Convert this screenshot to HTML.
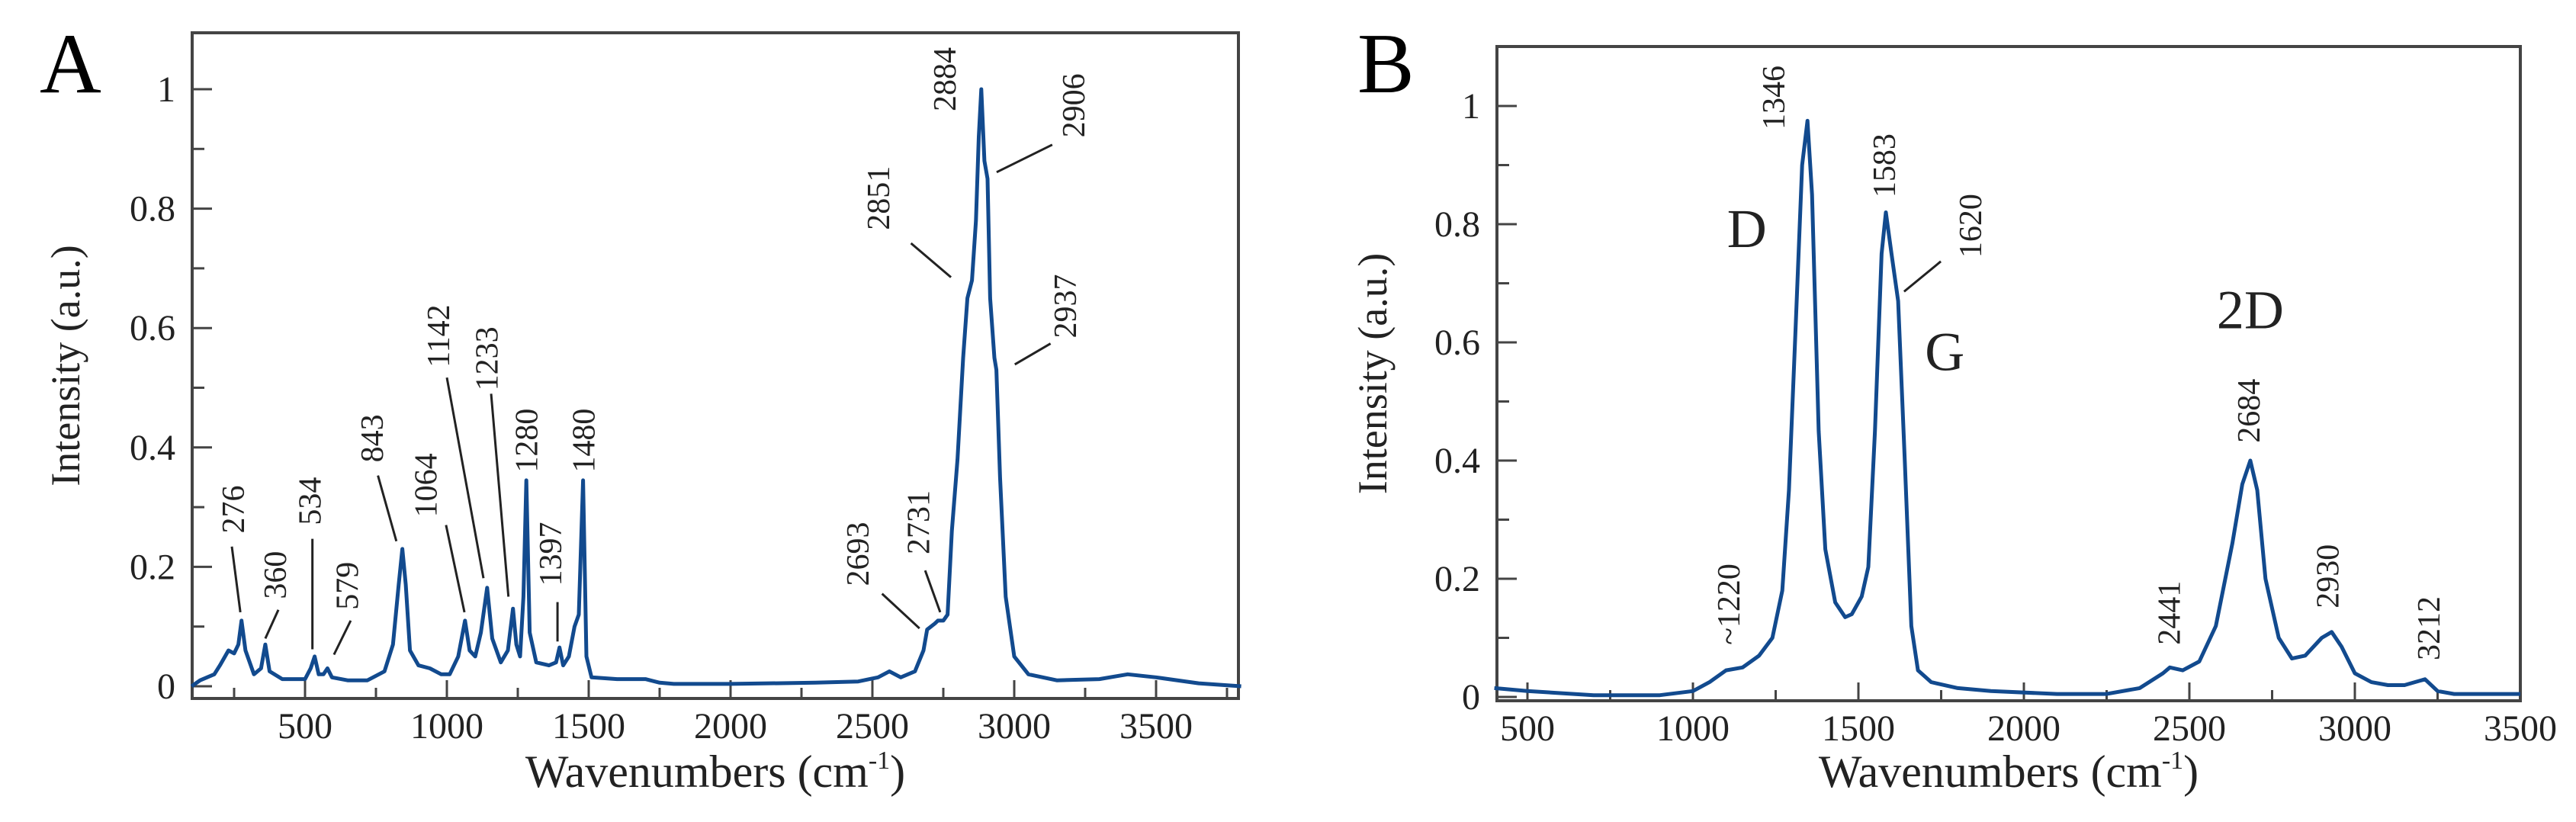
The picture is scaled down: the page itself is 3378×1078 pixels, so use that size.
<!DOCTYPE html>
<html><head><meta charset="utf-8">
<style>
html,body{margin:0;padding:0;background:#fff;}
svg{display:block;font-family:"Liberation Serif",serif;}
</style></head>
<body>
<svg id="fig" width="3378" height="1078" viewBox="0 0 3378 1078" xmlns="http://www.w3.org/2000/svg"></svg>
<script>
// ---------- Panel A data ----------
const wnA = [100,130,180,200,230,250,265,276,290,320,345,360,375,420,500,520,534,548,565,579,595,650,720,780,810,830,843,855,870,900,940,980,1010,1040,1064,1080,1100,1120,1142,1160,1190,1215,1233,1245,1258,1270,1280,1292,1315,1360,1385,1397,1410,1430,1450,1465,1480,1492,1510,1600,1700,1750,1800,2000,2300,2450,2520,2560,2600,2650,2680,2693,2720,2731,2750,2765,2780,2800,2820,2835,2851,2865,2875,2884,2895,2906,2915,2930,2937,2950,2970,3000,3050,3150,3300,3400,3500,3650,3800];
const intA = [0.0,0.01,0.02,0.035,0.06,0.055,0.07,0.11,0.06,0.02,0.03,0.07,0.025,0.012,0.012,0.03,0.05,0.02,0.02,0.03,0.015,0.01,0.01,0.025,0.07,0.17,0.23,0.17,0.06,0.035,0.03,0.02,0.02,0.05,0.11,0.06,0.05,0.09,0.165,0.08,0.04,0.06,0.13,0.07,0.05,0.15,0.345,0.09,0.04,0.035,0.04,0.065,0.035,0.05,0.1,0.12,0.345,0.05,0.015,0.012,0.012,0.006,0.004,0.004,0.006,0.008,0.015,0.025,0.015,0.025,0.06,0.095,0.105,0.11,0.11,0.12,0.26,0.38,0.55,0.65,0.68,0.78,0.92,1.0,0.88,0.85,0.65,0.55,0.53,0.35,0.15,0.05,0.02,0.01,0.012,0.02,0.015,0.005,0.0];
const xTicksA = [500,1000,1500,2000,2500,3000,3500];
const yTicksA = [0,0.2,0.4,0.6,0.8,1];
const annLabelsA = ["276","360","534","579","843","1064","1142","1233","1280","1397","1480","2693","2731","2851","2884","2906","2937"];
const annXA = [245,392,515,646,734,924,968,1138,1278,1363,1480,2446,2660,2519,2753,3207,3178];
const annYA = [0.256,0.146,0.27,0.128,0.375,0.283,0.534,0.495,0.358,0.168,0.358,0.168,0.221,0.764,0.963,0.919,0.583];
const leadA = [[242,0.234,272,0.124],[406,0.128,360,0.08],[526,0.247,526,0.062],[661,0.11,602,0.053],[757,0.353,822,0.243],[997,0.27,1062,0.124],[1000,0.517,1129,0.181],[1156,0.49,1217,0.15],[1390,0.141,1390,0.075],[2534,0.155,2666,0.097],[2686,0.194,2739,0.124],[2636,0.742,2777,0.685],[3134,0.907,2938,0.861],[3128,0.574,3002,0.539]];

// ---------- Panel B data ----------
const wnB = [400,500,700,900,1000,1050,1100,1150,1200,1240,1270,1290,1310,1330,1346,1360,1380,1400,1430,1460,1480,1510,1530,1550,1570,1583,1600,1620,1640,1660,1680,1720,1800,1900,2100,2250,2350,2420,2441,2480,2530,2580,2630,2660,2684,2705,2730,2770,2810,2850,2900,2930,2960,3000,3050,3100,3150,3212,3250,3300,3500];
const intB = [0.015,0.01,0.003,0.003,0.01,0.025,0.045,0.05,0.07,0.1,0.18,0.35,0.62,0.9,0.975,0.85,0.45,0.25,0.16,0.135,0.14,0.17,0.22,0.45,0.75,0.82,0.75,0.67,0.4,0.12,0.045,0.025,0.015,0.01,0.005,0.005,0.015,0.04,0.05,0.045,0.06,0.12,0.26,0.36,0.40,0.35,0.2,0.1,0.065,0.07,0.1,0.11,0.085,0.04,0.025,0.02,0.02,0.03,0.01,0.005,0.005];
const xTicksB = [500,1000,1500,2000,2500,3000,3500];
const yTicksB = [0,0.2,0.4,0.6,0.8,1];
const annLabelsB = ["~1220","1346","1583","1620","2441","2684","2930","3212"];
const annXB = [1106,1242,1576,1836,2437,2677,2916,3221];
const annYB = [0.088,0.96,0.845,0.743,0.088,0.43,0.15,0.062];
const leadB = [[1749,0.737,1638,0.686]];
const bandLabelsB = ["D","G","2D"];
const bandXB = [1163,1761,2684];
const bandYB = [0.761,0.553,0.624];

const NS="http://www.w3.org/2000/svg";
const svg=document.getElementById('fig');
function mk(tag,attrs,parent,text){const e=document.createElementNS(NS,tag);for(const k in attrs)e.setAttribute(k,attrs[k]);if(text!==undefined)e.textContent=text;(parent||svg).appendChild(e);return e;}

function panel(cfg){
  const g=mk('g',{});
  
  
  const X=v=>cfg.x0+(v-500)*cfg.kx;
  const Y=v=>cfg.y0-cfg.ky*v;
  const fr=mk('rect',{x:cfg.left,y:cfg.top,width:cfg.right-cfg.left,height:cfg.bottom-cfg.top,fill:'none',stroke:'#444',"stroke-width":4},g);
  
  
  for(let v=Math.ceil(cfg.xmin/250)*250; v<=cfg.xmax; v+=250){
    const major=v%500===0;
    mk('line',{x1:X(v),x2:X(v),y1:cfg.bottom,y2:cfg.bottom-(major?24:14),stroke:'#444',"stroke-width":3},g);
  }
  cfg.xTicks.forEach(v=>{
    const t=mk('text',{x:X(v),y:cfg.bottom+52,"text-anchor":"middle","font-size":48,fill:'#222'},g,String(v));
    
    
  });
  for(let i=0;i<=10;i++){
    const v=i/10;
    mk('line',{x1:cfg.left,x2:cfg.left+(i%2===0?26:16),y1:Y(v),y2:Y(v),stroke:'#444',"stroke-width":3},g);
  }
  cfg.yTicks.forEach(v=>{
    const t=mk('text',{x:cfg.left-22,y:Y(v)+16,"text-anchor":"end","font-size":48,fill:'#222'},g,String(v));
    
    
  });
  const xt=mk('text',{x:(cfg.left+cfg.right)/2,y:1032,"text-anchor":"middle","font-size":60,fill:'#222'},g);
  
  
  mk('tspan',{},xt,'Wavenumbers (cm');
  mk('tspan',{dy:-24,"font-size":34},xt,'-1');
  mk('tspan',{dy:24},xt,')');
  const yt=mk('text',{transform:`translate(${cfg.ytX},${(cfg.top+cfg.bottom)/2}) rotate(-90)`,"text-anchor":"middle","font-size":54,fill:'#222'},g,'Intensity (a.u.)');
  
  
  const pl=mk('text',{x:cfg.letterX,y:121,"font-size":112,fill:'#000'},g,cfg.letter);
  
  
  const d=cfg.wn.map((w,i)=>(i?'L':'M')+X(w).toFixed(1)+','+Y(cfg.inten[i]).toFixed(1)).join(' ');
  const p=mk('path',{d:d,fill:'none',stroke:'#124a8e',"stroke-width":5,"stroke-linejoin":"round"},g);
  
  
  cfg.lead.forEach(l=>{
    const ln=mk('line',{x1:X(l[0]),y1:Y(l[1]),x2:X(l[2]),y2:Y(l[3]),stroke:'#222',"stroke-width":3},g);
    
    
  });
  cfg.annL.forEach((s,i)=>{
    const x=X(cfg.annX[i]), y=Y(cfg.annY[i]);
    const t=mk('text',{transform:`translate(${x+15},${y}) rotate(-90)`,"text-anchor":"start","font-size":42,fill:'#222'},g,s);
    
    
  });
  (cfg.bandL||[]).forEach((s,i)=>{
    const t=mk('text',{x:X(cfg.bandX[i]),y:Y(cfg.bandY[i]),"text-anchor":"middle","font-size":72,fill:'#222'},g,s);
    
    
  });
}

panel({name:'panel-a',letter:'A',letterX:52,left:252,right:1624,top:43,bottom:916,xmin:100,xmax:3800,x0:400,kx:0.372,y0:900,ky:783,ytX:104,
  xTicks:xTicksA,yTicks:yTicksA,wn:wnA,inten:intA,annL:annLabelsA,annX:annXA,annY:annYA,lead:leadA});
panel({name:'panel-b',letter:'B',letterX:1780,left:1963,right:3305,top:61,bottom:919,xmin:400,xmax:3500,x0:2003,kx:0.434,y0:914,ky:775,ytX:1818,
  xTicks:xTicksB,yTicks:yTicksB,wn:wnB,inten:intB,annL:annLabelsB,annX:annXB,annY:annYB,lead:leadB,bandL:bandLabelsB,bandX:bandXB,bandY:bandYB});
</script>
</body></html>
